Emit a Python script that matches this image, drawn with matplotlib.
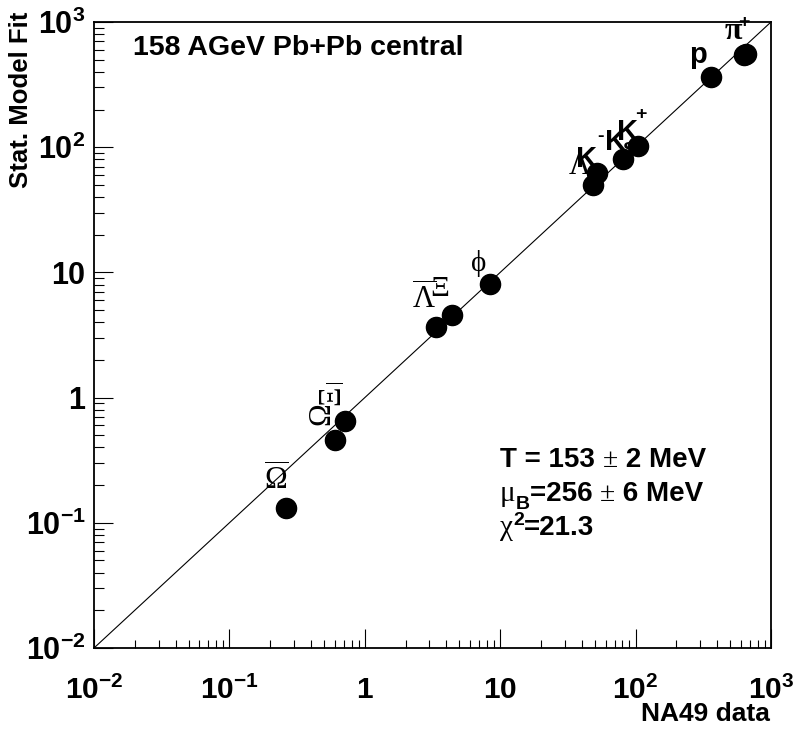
import matplotlib
matplotlib.use('Agg')
import matplotlib.pyplot as plt
from matplotlib.ticker import FixedLocator, LogLocator, NullFormatter

plt.rcParams['mathtext.fontset'] = 'custom'
plt.rcParams['mathtext.rm'] = 'Liberation Serif'
plt.rcParams['mathtext.it'] = 'Liberation Serif'
plt.rcParams['mathtext.bf'] = 'Liberation Serif:bold'
plt.rcParams['mathtext.sf'] = 'Liberation Sans:bold'
plt.rcParams['font.family'] = ['Liberation Sans', 'DejaVu Sans']

# %% data (NA49 data vs. statistical model fit)
particles = ['pi+', 'pi-', 'p', 'K+', 'K0s', 'K-', 'Lambda', 'phi', 'Xi', 'Lambdabar',
             'Xibar', 'Omega', 'Omegabar']
na49_data = [650, 635, 360, 104, 81, 52, 48.4, 8.4, 4.4, 3.36, 0.715, 0.60, 0.262]
model_fit = [560, 545, 364, 102, 80.5, 62, 50, 8.1, 4.57, 3.66, 0.65, 0.458, 0.131]

# labels: text, particle, offset from the point in pixels, size, rotation
labels = [
    (r'$\mathbf{\pi}$', 'pi+', (-12, 23), 23, 0),
    (r'$\mathsf{p}$', 'p', (-13, 20), 21, 0),
    (r'$\mathsf{K}$', 'K+', (-11, 14), 21, 0),
    (r'$\mathsf{K}$', 'K0s', (-8, 17), 21, 0),
    (r'$\mathsf{K}$', 'K-', (-11, 14), 21, 0),
    (r'$\Lambda$', 'Lambda', (-13, 19), 22, 0),
    (r'$\phi$', 'phi', (-12, 20), 21, 0),
    (r'$\Xi$', 'Xi', (-12, 27), 21, 0),
    (r'$\overline{\Lambda}$', 'Lambdabar', (-12, 28), 22, 0),
    (r'$\Xi$', 'Xibar', (-12, 24), 22, 90),
    (r'$\Omega$', 'Omega', (-12, 25), 22, 90),
    (r'$\overline{\Omega}$', 'Omegabar', (-10, 28), 22, 0),
]
# small super/subscripts and bars: text, particle, offset in pixels
scripts = [
    (r'$\mathsf{+}$', 'pi+', (-1, 32)),
    (r'$\mathsf{+}$', 'K+', (3, 33)),
    ('-', 'K-', (3, 37)),
    (r'$\mathsf{S}$', 'K0s', (6, 8)),
    (r'$\overline{\ \ \ }$', 'Xibar', (-11, 40)),
]

xtick_vals = [1e-2, 1e-1, 1, 10, 1e2, 1e3]
xtick_labels = [r'$\mathsf{10^{-2}}$', r'$\mathsf{10^{-1}}$', r'$\mathsf{1}$',
                r'$\mathsf{10}$', r'$\mathsf{10^{2}}$', r'$\mathsf{10^{3}}$']

# fit result text, pieces: text, serif?, size, vertical shift in px
fit_lines = [
    [('T = 153 ', False, 20, 0), ('±', True, 20, 0), (' 2 MeV', False, 20, 0)],
    [('μ', True, 21, 0), ('B', False, 14, -8), ('=256 ', False, 20, 0), ('±', True, 20, 0),
     (' 6 MeV', False, 20, 0)],
    [('χ', True, 21, 0), ('2', False, 14, 10), ('=21.3', False, 20, 0)],
]

# %%
W, H = 799, 730
fig = plt.figure(figsize=(W / 100, H / 100), dpi=100)
ax = fig.add_axes([94 / W, 82 / H, 677 / W, 626 / H])
ax.set_xscale('log')
ax.set_yscale('log')
ax.set_xlim(1e-2, 1e3)
ax.set_ylim(1e-2, 1e3)

ax.plot([1e-2, 1e3], [1e-2, 1e3], color='black', lw=0.8)
ax.plot(na49_data, model_fit, 'o', color='black', markersize=14.5, zorder=3)

idx = {name: i for i, name in enumerate(particles)}
for txt, name, off, size, rot in labels:
    i = idx[name]
    ax.annotate(txt, (na49_data[i], model_fit[i]), xytext=off, textcoords='offset pixels',
                ha='center', va='center', fontsize=size, rotation=rot)
for txt, name, off in scripts:
    i = idx[name]
    ax.annotate(txt, (na49_data[i], model_fit[i]), xytext=off, textcoords='offset pixels',
                ha='center', va='center', fontsize=14, fontweight='bold')

fig.text(133 / W, 1 - 48 / H, '158 AGeV Pb+Pb central', fontsize=20.5, fontweight='bold',
         ha='left', va='center')

renderer = fig.canvas.get_renderer()
for k, pieces in enumerate(fit_lines):
    x = 500
    y = 467 + k * 34
    for txt, serif, size, dy in pieces:
        t = fig.text(x / W, 1 - (y - dy) / H, txt, fontsize=size, ha='left', va='baseline',
                     family=['Liberation Serif'] if serif else ['Liberation Sans'],
                     fontweight='normal' if serif else 'bold')
        x = t.get_window_extent(renderer).x1

# ticks, ROOT style: inward on bottom/left only
for s in ax.spines.values():
    s.set_linewidth(1.3)
ax.xaxis.set_major_locator(FixedLocator(xtick_vals))
ax.set_xticklabels(xtick_labels, fontsize=21.5)
ax.yaxis.set_major_locator(FixedLocator(xtick_vals))
ax.set_yticklabels(xtick_labels, fontsize=22)
ax.xaxis.set_minor_locator(LogLocator(base=10, subs=range(2, 10), numticks=20))
ax.yaxis.set_minor_locator(LogLocator(base=10, subs=range(2, 10), numticks=20))
ax.xaxis.set_minor_formatter(NullFormatter())
ax.yaxis.set_minor_formatter(NullFormatter())
ax.tick_params(axis='both', which='both', direction='in', top=False, right=False, width=0.8)
ax.tick_params(axis='x', which='major', length=14, pad=20)
ax.tick_params(axis='x', which='minor', length=6)
ax.tick_params(axis='y', which='major', length=14, pad=6)
ax.tick_params(axis='y', which='minor', length=7)

fig.text(770 / W, 1 - 714 / H, 'NA49 data', fontsize=19, fontweight='bold', ha='right',
         va='center')
fig.text(21 / W, 1 - 12 / H, 'Stat. Model Fit', fontsize=18.5, fontweight='bold',
         ha='center', va='top', rotation=90)

fig.savefig('out.png', dpi=100)
